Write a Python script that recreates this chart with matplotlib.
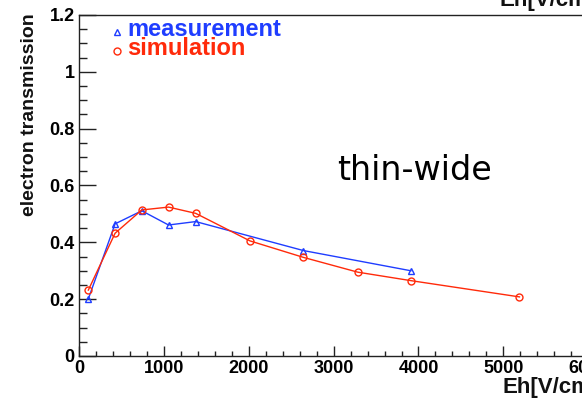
import matplotlib
matplotlib.use("Agg")
import matplotlib.pyplot as plt
from matplotlib.ticker import MultipleLocator

# Data
meas_x = [110, 425, 740, 1055, 1375, 2645, 3910]
meas_y = [0.201, 0.465, 0.511, 0.461, 0.473, 0.371, 0.300]
sim_x = [110, 425, 740, 1055, 1375, 2015, 2645, 3285, 3915, 5190]
sim_y = [0.232, 0.432, 0.514, 0.524, 0.502, 0.405, 0.347, 0.295, 0.265, 0.208]

meas_label = "measurement"
sim_label = "simulation"
annot = "thin-wide"
xlabel = "Eh[V/cm]"
ylabel = "electron transmission"

BLUE = "#1f3dff"
RED = "#ff2a0a"
W, H = 582, 399

fig = plt.figure(figsize=(W / 100, H / 100), dpi=100)
fig.patch.set_facecolor("white")

x0, y0, ytop = 79, 356, 15
px_per_1000 = 84.87
xmax = 7000
ax = fig.add_axes([x0 / W, (H - y0) / H, xmax / 1000 * px_per_1000 / W, (y0 - ytop) / H])
ax.set_xlim(0, xmax)
ax.set_ylim(0, 1.2)

ax.plot(meas_x, meas_y, color=BLUE, lw=1.0, marker="^", ms=5, mfc="none", mec=BLUE, mew=1.0, zorder=3)
ax.plot(sim_x, sim_y, color=RED, lw=1.0, marker="o", ms=5, mfc="none", mec=RED, mew=1.0, zorder=3)

font = "Liberation Sans"
ax.xaxis.set_major_locator(MultipleLocator(1000))
ax.xaxis.set_minor_locator(MultipleLocator(200))
ax.yaxis.set_major_locator(MultipleLocator(0.2))
ax.yaxis.set_minor_locator(MultipleLocator(0.05))
ax.tick_params(axis="x", which="major", direction="in", length=7, width=1, pad=3, colors="#222222")
ax.tick_params(axis="x", which="minor", direction="in", length=3.5, width=1, colors="#222222")
ax.tick_params(axis="y", which="major", direction="in", length=12, width=1, pad=3, colors="#222222")
ax.tick_params(axis="y", which="minor", direction="in", length=6, width=1, colors="#222222")
ax.xaxis.set_major_formatter(plt.FuncFormatter(lambda v, p: f"{int(round(v))}"))
ax.yaxis.set_major_formatter(plt.FuncFormatter(lambda v, p: "0" if abs(v) < 1e-9 else ("1" if abs(v - 1) < 1e-9 else f"{v:.1f}")))
ax.tick_params(labelsize=13, labelcolor="black")
plt.setp(ax.get_xticklabels(), fontfamily=font, fontweight="bold")
plt.setp(ax.get_yticklabels(), fontfamily=font, fontweight="bold")

for s in ax.spines.values():
    s.set_color("#222222")
    s.set_linewidth(1.0)

# legend (manual, like ROOT TLegend without border)
fig.text(127 / W, 1 - 36.5 / H, meas_label, color=BLUE, fontsize=17, fontweight="bold", family=font, va="baseline")
fig.text(127 / W, 1 - 55 / H, sim_label, color=RED, fontsize=17, fontweight="bold", family=font, va="baseline")
fig.lines.append(plt.Line2D([117 / W], [1 - 31.5 / H], transform=fig.transFigure, marker="^", ms=5,
                            mfc="none", mec=BLUE, mew=1.0, ls="none"))
fig.lines.append(plt.Line2D([117 / W], [1 - 51 / H], transform=fig.transFigure, marker="o", ms=5,
                            mfc="none", mec=RED, mew=1.0, ls="none"))

# annotation
fig.text(337 / W, 1 - 180 / H, annot, fontsize=24, family="DejaVu Sans", va="baseline", color="black")

# axis titles
fig.text(30 / W, 1 - 13 / H, ylabel, rotation=90, fontsize=14, fontweight="bold", family=font,
         ha="center", va="top", color="#111111")
fig.text(503 / W, 1 - 393 / H, xlabel, fontsize=16, fontweight="bold", family=font, ha="left",
         va="baseline", color="#111111")
# cut-off title at the top right (from canvas above)
fig.text(500 / W, 1 - 6 / H, xlabel, fontsize=16, fontweight="bold", family=font, ha="left",
         va="baseline", color="#111111")

fig.savefig("out.png", dpi=100)
